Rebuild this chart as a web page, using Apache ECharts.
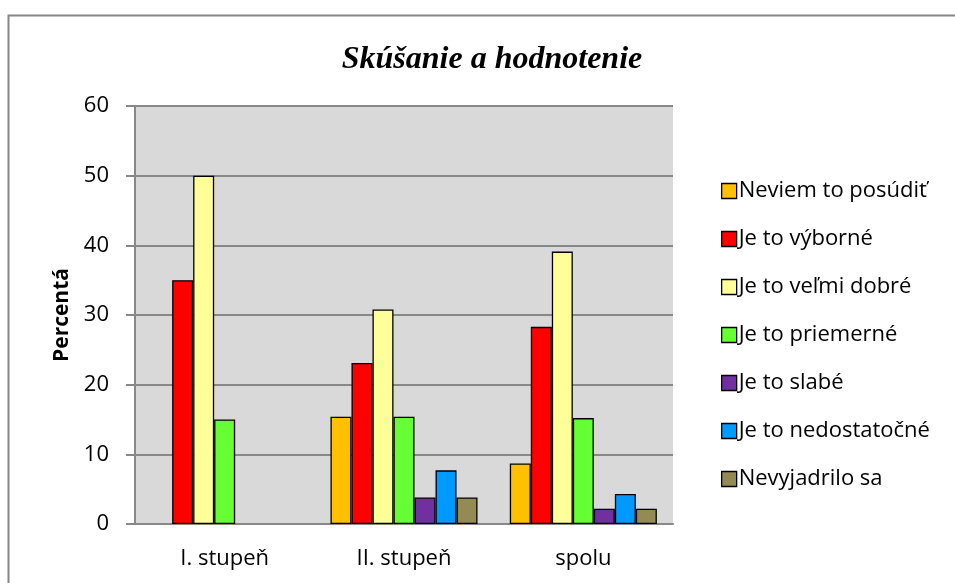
<!DOCTYPE html>
<html>
<head>
<meta charset="utf-8">
<script src="https://cdn.jsdelivr.net/npm/echarts@6/dist/echarts.min.js"></script>
<style>
  html, body { margin: 0; padding: 0; background: #fff; }
  #main { width: 955px; height: 583px; }
</style>
</head>
<body>
<div id="main"></div>
<script>
const categories = ['I. stupeň', 'II. stupeň', 'spolu'];
const seriesNames = ['Neviem to posúdiť', 'Je to výborné', 'Je to veľmi dobré', 'Je to priemerné', 'Je to slabé', 'Je to nedostatočné', 'Nevyjadrilo sa'];
const neviem = [0, 15.4, 8.7];
const vyborne = [35, 23.1, 28.3];
const velmiDobre = [50, 30.8, 39.1];
const priemerne = [15, 15.4, 15.2];
const slabe = [0, 3.8, 2.2];
const nedostatocne = [0, 7.7, 4.3];
const nevyjadrilo = [0, 3.8, 2.2];
const colors = ['#FFC000', '#FF0000', '#FFFF99', '#66FF33', '#7030A0', '#0099FF', '#948A54'];
const yTicks = [0, 10, 20, 30, 40, 50, 60];

const values = [neviem, vyborne, velmiDobre, priemerne, slabe, nedostatocne, nevyjadrilo];
const font = '"Open Sans", sans-serif';

const chart = echarts.init(document.getElementById('main'));

// zero bars: no outline (nothing is drawn in the original)
const series = seriesNames.map((name, i) => ({
  name: name,
  type: 'bar',
  barGap: '0%',
  barCategoryGap: '18%',
  itemStyle: { color: colors[i], borderColor: '#000', borderWidth: 1.3 },
  data: values[i].map(v => v === 0 ? { value: v, itemStyle: { borderWidth: 0 } } : v)
}));

chart.setOption({
  animation: false,
  backgroundColor: '#fff',
  title: {
    text: 'Skúšanie a hodnotenie',
    left: 487, top: 39, textAlign: 'center',
    textStyle: { fontFamily: '"Liberation Serif", serif', fontStyle: 'italic', fontWeight: 'bold', fontSize: 32, color: '#000' }
  },
  graphic: [{
    type: 'rect', shape: { x: 8.5, y: 15.5, width: 960, height: 580 },
    style: { fill: 'none', stroke: '#888', lineWidth: 2 }, silent: true
  }],
  legend: {
    orient: 'vertical', left: 716, top: 174,
    icon: 'rect', itemWidth: 15, itemHeight: 15, itemGap: 24,
    itemStyle: { borderColor: '#000', borderWidth: 1.3 },
    textStyle: { fontFamily: font, fontSize: 22, color: '#000', padding: [0, 0, 0, -3], lineHeight: 24 },
    data: seriesNames
  },
  grid: { left: 135, right: 282, top: 106, bottom: 59, show: true, backgroundColor: '#D9D9D9', borderWidth: 0 },
  xAxis: {
    type: 'category', data: categories,
    axisLine: { lineStyle: { color: '#888', width: 2 } },
    axisTick: { show: false },
    axisLabel: { fontFamily: font, fontSize: 22, color: '#000', margin: 24 }
  },
  yAxis: {
    type: 'value', min: yTicks[0], max: yTicks[yTicks.length - 1], interval: 10,
    name: 'Percentá', nameLocation: 'middle', nameGap: 57,
    nameTextStyle: { fontFamily: font, fontSize: 21, fontWeight: 'bold', color: '#000' },
    axisLine: { show: true, lineStyle: { color: '#888', width: 2 } },
    axisTick: { show: true, length: 9, lineStyle: { color: '#888', width: 2 } },
    splitLine: { lineStyle: { color: '#888', width: 2 } },
    axisLabel: { fontFamily: font, fontSize: 22, color: '#000', margin: 26 }
  },
  series: series
});
</script>
</body>
</html>
